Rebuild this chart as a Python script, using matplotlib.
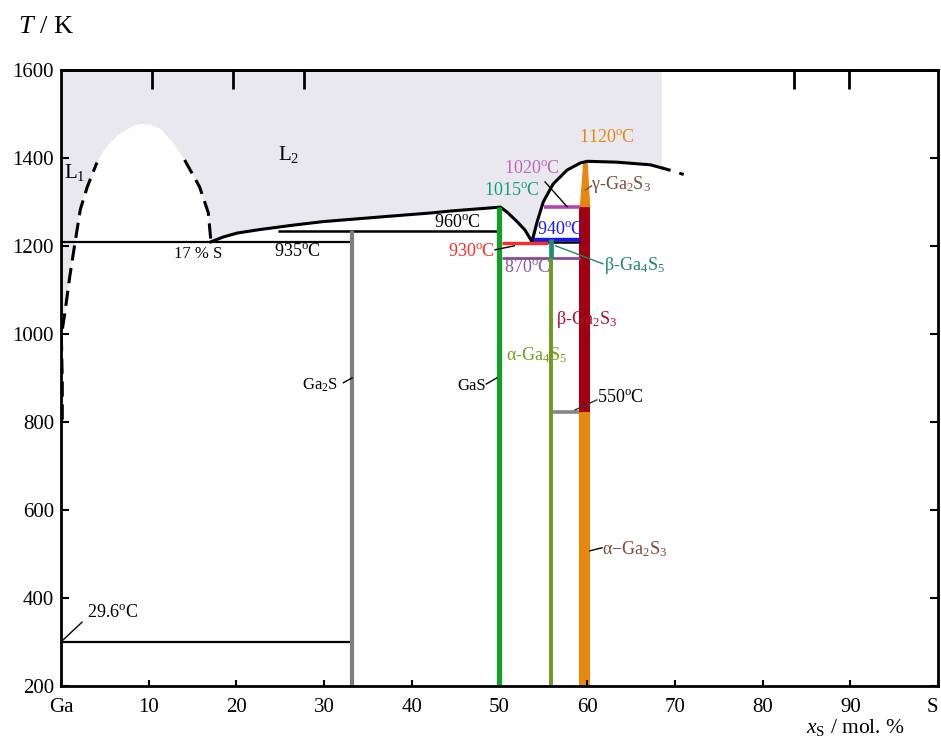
import numpy as np
import matplotlib
matplotlib.use('Agg')
import matplotlib.pyplot as plt

plt.rcParams['font.family'] = ['Liberation Serif', 'DejaVu Serif']
plt.rcParams['mathtext.fontset'] = 'custom'
plt.rcParams['mathtext.rm'] = 'Liberation Serif'
plt.rcParams['mathtext.it'] = 'Liberation Serif:italic'

# --- values (x in mol.% S, T in K) ---
# Ga-side liquidus (dashed) and miscibility dome
dome_x = [0.0, 0.5, 1.0, 1.6, 2.2, 3.0, 4.1, 4.8, 5.6, 6.5, 7.5, 8.3, 9.2, 10.2, 11.3,
          12.7, 14.1, 15.8, 16.8, 17.1]
dome_T = [990, 1055, 1130, 1207, 1282, 1334, 1389, 1414, 1434, 1451, 1464, 1473, 1477, 1475, 1466,
          1436, 1395, 1334, 1275, 1209]
ga_tail_x = [0.15, 0.15, 0.05]
ga_tail_T = [805, 890, 990]

# liquidus L2 (solid) and its dashed end
liq_x = [17.1, 18.5, 20.1, 22.7, 26.5, 29.9, 36.7, 42.4, 44.4, 46.3, 48.9, 50.1,
         50.9, 52.0, 52.9, 53.5, 53.7, 54.3, 55.0, 56.1, 57.7, 59.2, 60.0, 63.4, 67.2, 68.5]
liq_T = [1209, 1220, 1229, 1237, 1247, 1255, 1266, 1275, 1279, 1282, 1286, 1288,
         1276, 1255, 1236, 1216, 1209, 1255, 1300, 1340, 1372, 1388, 1392, 1390, 1384, 1377]
liq_end_x = [68.5, 69.6, 71.0]
liq_end_T = [1377, 1371, 1362]
liq_region_right = 68.5

# compounds: (x, T bottom, T top)
ga2s = (33.2, 200, 1233)
gas = (50.0, 200, 1288)
a_ga4s5 = (55.9, 200, 1173)
b_ga4s5 = (55.9, 1173, 1216)
ga2s3_left, ga2s3_right = 59.1, 60.3
a_ga2s3 = (200, 823)
b_ga2s3 = (823, 1289)
g_ga2s3_T = [1289, 1393]
g_ga2s3_left = [59.1, 59.5]
g_ga2s3_right = [60.3, 60.0]

# invariant lines: (x from, x to, T)
ga_melt = (0.0, 33.2, 300)
monotectic = (0.0, 33.2, 1208)
peritectic_960 = (24.8, 50.0, 1233)
eut_930 = (50.3, 55.5, 1207)
eut_black = (53.7, 59.2, 1209)
line_940 = (53.8, 59.2, 1216)
line_870 = (50.3, 59.2, 1173)
line_1020 = (55.1, 59.2, 1289)
line_550 = (55.9, 59.1, 823)

xticks = [0, 10, 20, 30, 40, 50, 60, 70, 80, 90, 100]
xtick_labels = ['Ga', '10', '20', '30', '40', '50', '60', '70', '80', '90', 'S']
yticks = [200, 400, 600, 800, 1000, 1200, 1400, 1600]
top_ticks = [10.4, 19.6, 27.7, 83.6, 89.9]

fig = plt.figure(figsize=(9.41, 7.38), dpi=100)
ax = fig.add_axes([0.0648, 0.0705, 0.932, 0.835])
ax.set_xlim(0, 100)
ax.set_ylim(200, 1600)

# shaded liquid region
poly_x = dome_x + liq_x[1:] + [liq_region_right, 0]
poly_T = dome_T + liq_T[1:] + [1600, 1600]
ax.fill(poly_x, poly_T, color='#e8e8ee', lw=0, zorder=0)

dash = (0, (5, 2.5))
ax.plot(ga_tail_x + dome_x[:7], ga_tail_T + dome_T[:7], color='k', lw=2.2, ls=dash)
ax.plot(dome_x[16:], dome_T[16:], color='k', lw=2.2, ls=dash)
ax.plot(liq_x, liq_T, color='k', lw=2.2)
ax.plot(liq_end_x, liq_end_T, color='k', lw=2.2, ls=(0, (3, 3)))

def hline(seg, color, lw):
    ax.plot([seg[0], seg[1]], [seg[2], seg[2]], color=color, lw=lw, solid_capstyle='butt')

def vline(seg, color, lw):
    ax.plot([seg[0], seg[0]], [seg[1], seg[2]], color=color, lw=lw, solid_capstyle='butt')

hline(ga_melt, 'k', 1.6)
hline(monotectic, 'k', 1.6)
hline(peritectic_960, 'k', 1.8)
hline(eut_black, 'k', 1.8)
hline(eut_930, '#ff2a2a', 2.4)
hline(line_940, '#1414ff', 2.4)
hline(line_870, '#8a4a9a', 2.0)
hline(line_1020, '#b445b4', 2.6)
hline(line_550, '#858585', 2.6)

vline(ga2s, '#7f7f7f', 3.0)
vline(gas, '#12a02a', 3.8)
vline(a_ga4s5, '#6e9a1e', 2.8)
vline(b_ga4s5, '#1a9070', 3.4)

ax.fill_betweenx(a_ga2s3, ga2s3_left, ga2s3_right, color='#e8870f', lw=0)
ax.fill_betweenx(b_ga2s3, ga2s3_left, ga2s3_right, color='#a00012', lw=0)
ax.fill_betweenx(g_ga2s3_T, g_ga2s3_left, g_ga2s3_right, color='#e8870f', lw=0)

# labels
deg = r'$^{\mathrm{o}}$C'
fs = 13
def lab(x, y, s, color='k', size=fs):
    ax.text(x, y, s, color=color, fontsize=size, ha='left', va='center')

lab(0.4, 1366, r'L$_1$', size=15)
lab(24.8, 1407, r'L$_2$', size=15)
lab(12.9, 1182, '17 % S', size=12)
lab(24.3, 1188, '935' + deg)
lab(42.5, 1252, '960' + deg)
lab(48.2, 1325, '1015' + deg, '#14a07c')
lab(50.5, 1375, '1020' + deg, '#c264c2')
lab(59.1, 1447, '1120' + deg, '#e8870f')
lab(60.4, 1339, r'γ-Ga$_2$S$_3$', '#7a4b3a')
lab(54.3, 1238, '940' + deg, '#1414ff')
lab(44.1, 1188, '930' + deg, '#ff2a2a')
lab(50.5, 1150, '870' + deg, '#8a5a9a')
lab(61.9, 1155, r'β-Ga$_4$S$_5$', '#1a8a6a')
lab(56.5, 1032, r'β-Ga$_2$S$_3$', '#a8102e')
lab(50.8, 952, r'α-Ga$_4$S$_5$', '#7a9a20')
lab(45.2, 882, 'GaS', size=12)
lab(27.5, 884, r'Ga$_2$S', size=12)
lab(61.1, 855, '550' + deg)
lab(61.7, 511, r'α−Ga$_2$S$_3$', '#7a4b3a')
lab(3.0, 366, '29.6' + deg)

# leader lines
leaders = [
    ([0.1, 2.4], [302, 345], 'k'),
    ([55.2, 57.7], [1345, 1289], 'k'),
    ([59.8, 60.5], [1327, 1336], '#7a4b3a'),
    ([49.5, 51.7], [1191, 1200], 'k'),
    ([56.4, 61.8], [1200, 1159], '#1a8a6a'),
    ([48.5, 49.7], [886, 900], 'k'),
    ([32.2, 33.2], [889, 900], 'k'),
    ([58.6, 61.1], [827, 850], '#333333'),
    ([60.3, 61.7], [507, 514], 'k'),
]
for lx, ly, c in leaders:
    ax.plot(lx, ly, color=c, lw=1.0)

ax.set_xticks(xticks)
ax.set_xticklabels(xtick_labels)
ax.get_xticklabels()[-1].set_horizontalalignment('right')
ax.set_yticks(yticks)
ax.tick_params(direction='in', width=1.5, labelsize=15)
ax.tick_params(axis='x', length=4, pad=9)
ax.tick_params(axis='y', length=6, pad=5, right=True)
for sp in ax.spines.values():
    sp.set_linewidth(2)

sec = ax.secondary_xaxis('top')
sec.set_xticks(top_ticks)
sec.set_xticklabels([])
sec.tick_params(direction='in', length=14, width=2)
sec.spines['top'].set_linewidth(2)

fig.text(18 / 941, 1 - 27 / 738, r'$T$ / K', fontsize=19, ha='left', va='center')
fig.text(855 / 941, 1 - 728 / 738, r'$x_{\mathrm{S}}$ / mol. %', fontsize=15.5, ha='center', va='center')

fig.savefig('out.png', dpi=100)
